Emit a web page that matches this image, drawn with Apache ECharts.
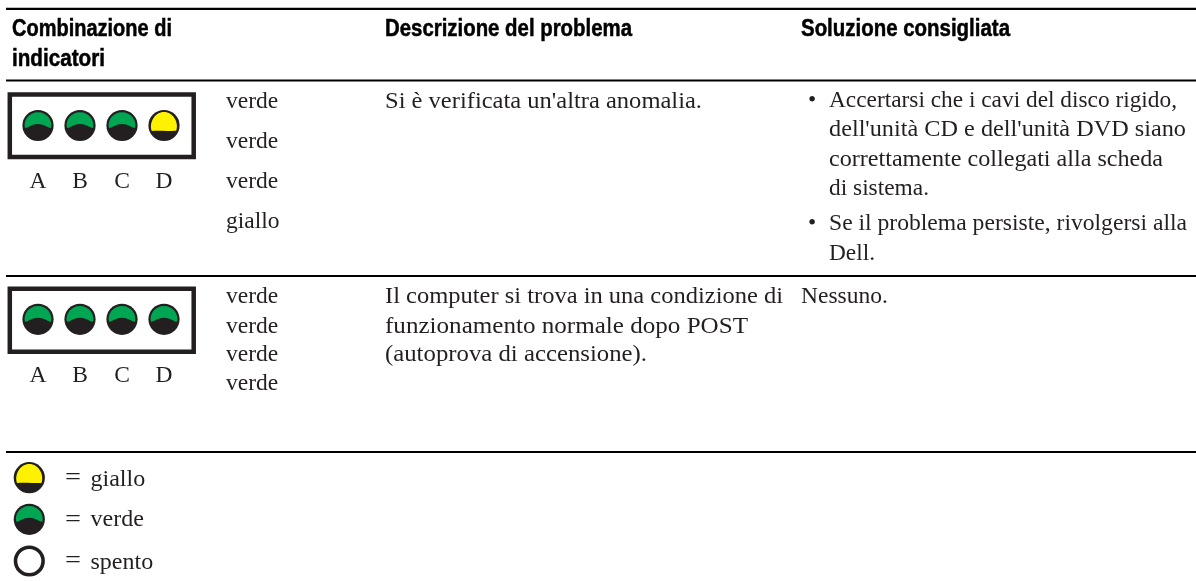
<!DOCTYPE html>
<html>
<head>
<meta charset="utf-8">
<title>Combinazione di indicatori</title>
<script src="https://cdn.jsdelivr.net/npm/echarts@6/dist/echarts.min.js"></script>
<style>
    html, body { margin: 0; padding: 0; background: #fff; }
    #main { width: 1196px; height: 581px; }
</style>
</head>
<body>
<div id="main"></div>
<script type="text/javascript">
    // table content
    var headerFirst = ['Combinazione di', 'indicatori'];
    var headerProblem = 'Descrizione del problema';
    var headerSolution = 'Soluzione consigliata';
    var ledLetters = ['A', 'B', 'C', 'D'];
    var row1Leds = ['verde', 'verde', 'verde', 'giallo'];
    var row2Leds = ['verde', 'verde', 'verde', 'verde'];
    var row1Problem = ["Si è verificata un'altra anomalia."];
    var row1Solution = [
        'Accertarsi che i cavi del disco rigido,',
        "dell'unità CD e dell'unità DVD siano",
        'correttamente collegati alla scheda',
        'di sistema.',
        'Se il problema persiste, rivolgersi alla',
        'Dell.'
    ];
    var row2Problem = [
        'Il computer si trova in una condizione di',
        'funzionamento normale dopo POST',
        '(autoprova di accensione).'
    ];
    var row2Solution = ['Nessuno.'];
    var legendStates = ['giallo', 'verde', 'spento'];

    // layout, in pixels of the page
    var DARK = '#231f20';
    var SERIF = '"Liberation Serif", serif';
    var SANS = '"Liberation Sans", sans-serif';
    var BODY_SIZE = 23.5;
    var HEAD_SIZE = 23.5;
    var ledX = [38, 80, 122, 164];
    var ruleY = [8.8, 80.5, 276, 452];
    var frames = [{ y: 94.4, h: 62.7 }, { y: 288.7, h: 63 }];
    var row1LedY = 125.5;
    var row2LedY = 319.3;
    var legendX = 29.3;
    var legendY = [477.7, 519.3, 561];
    var legendTextY = [480, 520, 562.5];
    var row1StateY = [101.5, 141.5, 181.5, 221.5];
    var row2StateY = [296.5, 326.5, 355, 384];
    var row1SolutionY = [100.5, 130, 159.5, 188.5, 223.5, 254];
    var row1SolutionW = [348, 357, 334, 100, 358, 46];
    var row1Bullets = [0, 4];
    var row2ProblemY = [297, 326.5, 355];
    var row2ProblemW = [398, 363, 262];
    var headWidths = { first: [160, 93], problem: 247, solution: 209 };

    var greenPath = 'M-13 2.5C-9 2 -6 -1.5 0 -1.5C6 -1.5 9 2 13 2.5C15 -5 9 -13.3 0 -13.3C-9 -13.3 -15 -5 -13 2.5Z';
    var yellowPath = 'M-12 5C-6 4.5 -2 5 3 5C7 5 9 5 12 4.8C15 -3 9 -13.5 0 -13.5C-9 -13.5 -15 -3 -12 5Z';

    var measureCtx = document.createElement('canvas').getContext('2d');

    function ledData() {
        var data = [];
        row1Leds.forEach(function (s, i) { data.push([ledX[i], row1LedY, s]); });
        row2Leds.forEach(function (s, i) { data.push([ledX[i], row2LedY, s]); });
        legendStates.forEach(function (s, i) { data.push([legendX, legendY[i], s]); });
        return data;
    }

    function renderLed(params, api) {
        var pos = api.coord([api.value(0), api.value(1)]);
        var state = api.value(2);
        var children = [];
        if (state === 'spento') {
            children.push({
                type: 'circle',
                shape: { cx: 0, cy: 0, r: 13.8 },
                style: { fill: '#fff', stroke: DARK, lineWidth: 3.6 }
            });
        } else {
            children.push({
                type: 'circle',
                shape: { cx: 0, cy: 0, r: 15.6 },
                style: { fill: DARK }
            });
            if (state === 'verde') {
                children.push({
                    type: 'path',
                    shape: { pathData: greenPath, layout: 'cover', x: -13.4, y: -13.3, width: 26.8, height: 15.8 },
                    style: { fill: '#00a651' }
                });
            } else {
                children.push({
                    type: 'path',
                    shape: { pathData: yellowPath, layout: 'cover', x: -13, y: -13.6, width: 26, height: 19 },
                    style: { fill: '#fff200' }
                });
            }
        }
        return { type: 'group', x: pos[0], y: pos[1], children: children };
    }

    // width: squeeze or stretch the line to this many pixels
    function label(text, x, y, font, size, weight, width) {
        var el = {
            type: 'text',
            x: x,
            y: y,
            style: {
                text: text,
                fontFamily: font,
                fontSize: size,
                fontWeight: weight || 'normal',
                fill: '#231f20',
                verticalAlign: 'middle',
                align: 'left'
            }
        };
        if (width) {
            measureCtx.font = (weight || 'normal') + ' ' + size + 'px ' + font;
            el.scaleX = width / measureCtx.measureText(text).width;
        }
        return el;
    }

    function headLabel(text, x, y, width) {
        var el = label(text, x, y, SANS, HEAD_SIZE, 'bold', width);
        el.style.fill = '#000';
        el.style.stroke = '#000';
        el.style.lineWidth = 0.5;
        return el;
    }

    function buildGraphic() {
        var els = [];
        ruleY.forEach(function (y) {
            els.push({
                type: 'line',
                shape: { x1: 6, y1: y, x2: 1196, y2: y },
                style: { stroke: '#000', lineWidth: 2.2 }
            });
        });
        frames.forEach(function (f) {
            els.push({
                type: 'rect',
                shape: { x: 9.8, y: f.y, width: 183.9, height: f.h },
                style: { fill: 'none', stroke: DARK, lineWidth: 4.5 }
            });
        });

        // headers
        els.push(headLabel(headerFirst[0], 12, 29.5, headWidths.first[0]));
        els.push(headLabel(headerFirst[1], 12, 59.5, headWidths.first[1]));
        els.push(headLabel(headerProblem, 385, 29.5, headWidths.problem));
        els.push(headLabel(headerSolution, 801, 29.5, headWidths.solution));

        // A B C D under each frame
        ledLetters.forEach(function (l, i) {
            [182, 375.5].forEach(function (y) {
                var t = label(l, ledX[i], y, SERIF, 23.5);
                t.style.align = 'center';
                els.push(t);
            });
        });

        // colour names next to the frames
        row1Leds.forEach(function (s, i) { els.push(label(s, 226, row1StateY[i], SERIF, BODY_SIZE)); });
        row2Leds.forEach(function (s, i) { els.push(label(s, 226, row2StateY[i], SERIF, BODY_SIZE)); });

        // problem and solution columns
        els.push(label(row1Problem[0], 385, 101.5, SERIF, BODY_SIZE, 'normal', 317));
        row1Solution.forEach(function (s, i) {
            if (row1Bullets.indexOf(i) >= 0) {
                els.push(label('•', 808, row1SolutionY[i], SERIF, BODY_SIZE));
            }
            els.push(label(s, 829, row1SolutionY[i], SERIF, BODY_SIZE, 'normal', row1SolutionW[i]));
        });
        row2Problem.forEach(function (s, i) {
            els.push(label(s, 385, row2ProblemY[i], SERIF, BODY_SIZE, 'normal', row2ProblemW[i]));
        });
        els.push(label(row2Solution[0], 801, 297, SERIF, BODY_SIZE));

        // legend
        legendStates.forEach(function (s, i) {
            els.push(label('=', 65, legendY[i], SERIF, 24, 'normal', 16));
            els.push(label(s, 90.5, legendTextY[i], SERIF, 24));
        });
        return els;
    }

    var myChart = echarts.init(document.getElementById('main'), null, { renderer: 'canvas' });
    myChart.setOption({
        animation: false,
        backgroundColor: '#fff',
        grid: { left: 0, right: 0, top: 0, bottom: 0 },
        xAxis: { type: 'value', min: 0, max: 1196, show: false },
        yAxis: { type: 'value', min: 0, max: 581, inverse: true, show: false },
        graphic: buildGraphic(),
        series: [
            {
                type: 'custom',
                coordinateSystem: 'cartesian2d',
                clip: false,
                silent: true,
                renderItem: renderLed,
                encode: { x: 0, y: 1 },
                data: ledData()
            }
        ]
    });
</script>
</body>
</html>
